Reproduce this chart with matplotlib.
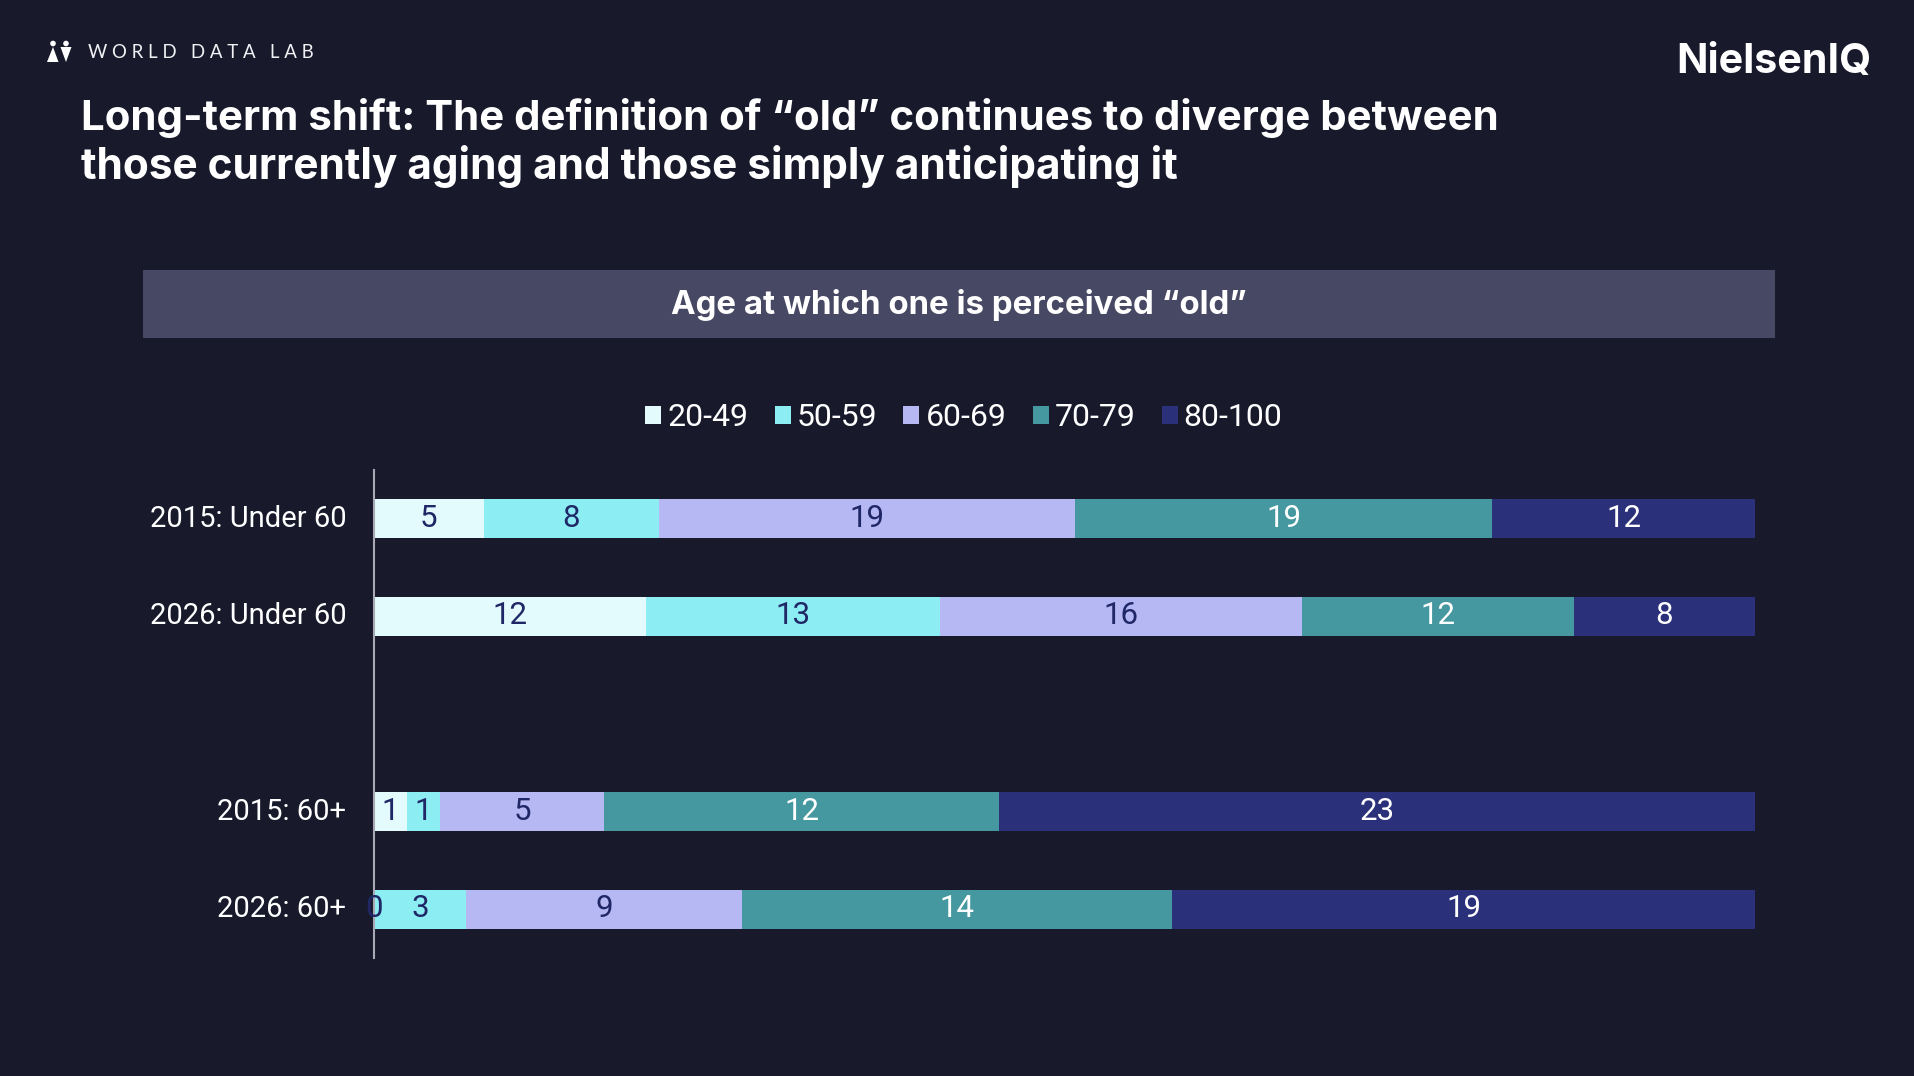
import matplotlib
matplotlib.use("Agg")
import matplotlib.pyplot as plt
from matplotlib.patches import Rectangle, Circle, Polygon
import numpy as np

rows = ["2015: Under 60", "2026: Under 60", "", "2015: 60+", "2026: 60+"]
age_groups = ["20-49", "50-59", "60-69", "70-79", "80-100"]
share_20_49 = [5, 12, 0, 1, 0]
share_50_59 = [8, 13, 0, 1, 3]
share_60_69 = [19, 16, 0, 5, 9]
share_70_79 = [19, 12, 0, 12, 14]
share_80_100 = [12, 8, 0, 23, 19]

colors = ["#E3FBFC", "#8CEDF2", "#B5B8F3", "#45989F", "#2A3079"]
label_colors = ["#1F2766", "#1F2766", "#1F2766", "#FFFFFF", "#FFFFFF"]
bg = "#181A2C"
band = "#474863"
W, H = 1914, 1076

plt.rcParams["font.family"] = "Roboto"

fig = plt.figure(figsize=(W / 100, H / 100), dpi=100, facecolor=bg)

# page furniture lives on a full-size axes measured in pixels
page = fig.add_axes([0, 0, 1, 1])
page.set_xlim(0, W)
page.set_ylim(H, 0)
page.axis("off")

page.add_patch(Rectangle((143, 270), 1632, 68, color=band, lw=0))
page.text(959, 305, "Age at which one is perceived “old”", color="white", fontsize=23.75,
          fontfamily="Inter", fontweight="bold", ha="center", va="center")
page.text(81, 118.5, "Long-term shift: The definition of “old” continues to diverge between",
          color="white", fontsize=30.2, fontfamily="Inter", fontweight="bold", va="center")
page.text(81, 166.5, "those currently aging and those simply anticipating it",
          color="white", fontsize=30.5, fontfamily="Inter", fontweight="bold", va="center")
page.text(88, 53, "\u2009\u2009".join("WORLD DATA LAB"), color="#F2F2F4", fontsize=13.4,
          fontfamily=["Lato", "DejaVu Sans"], va="center")
page.text(1871, 62, "NielsenIQ", color="white", fontsize=29.7, fontfamily="Inter", fontweight="bold",
          ha="right", va="center")

# small two-figure mark next to the lab name
page.add_patch(Circle((53, 43.5), 2.8, color="white", lw=0))
page.add_patch(Circle((66, 43.5), 2.8, color="white", lw=0))
page.add_patch(Polygon([[53, 47], [47, 62], [58.5, 62]], color="white", lw=0))
page.add_patch(Polygon([[60.5, 47], [71.5, 47], [66, 62]], color="white", lw=0))

ax = fig.add_axes([374 / W, 1 - 958 / H, (1755 - 374) / W, 488 / H])
ax.set_facecolor("none")

data = np.array([share_20_49, share_50_59, share_60_69, share_70_79, share_80_100], dtype=float)
totals = data.sum(axis=0)
totals[totals == 0] = 1
y = np.arange(len(rows))
left = np.zeros(len(rows))
handles = []
for i, group in enumerate(age_groups):
    widths = data[i] / totals
    bars = ax.barh(y, widths, left=left, height=0.4, color=colors[i], label=group, linewidth=0)
    handles.append(bars)
    for j in range(len(rows)):
        if rows[j] != "":
            ax.text(left[j] + widths[j] / 2, y[j] - 0.005, f"{data[i][j]:.0f}", ha="center", va="center",
                    color=label_colors[i], fontsize=22.5, clip_on=False)
    left += widths

ax.set_xlim(0, 1)
ax.set_ylim(len(rows) - 0.5, -0.5)
ax.set_yticks(y)
ax.set_yticklabels(rows, color="white", fontsize=21, va="center")
ax.tick_params(axis="y", length=0, pad=20)
ax.set_xticks([])
for side in ["top", "right", "bottom"]:
    ax.spines[side].set_visible(False)
ax.spines["left"].set_color("#A9A9B5")
ax.spines["left"].set_linewidth(1.5)

leg = page.legend(handles, age_groups, loc="center", bbox_to_anchor=(964 / W, 1 - 418 / H),
                  bbox_transform=fig.transFigure, ncol=5, frameon=False, fontsize=23, labelcolor="white",
                  handlelength=0.5, handleheight=0.5, handletextpad=0.19, columnspacing=0.82)

fig.savefig("out.png", dpi=100, facecolor=bg)
